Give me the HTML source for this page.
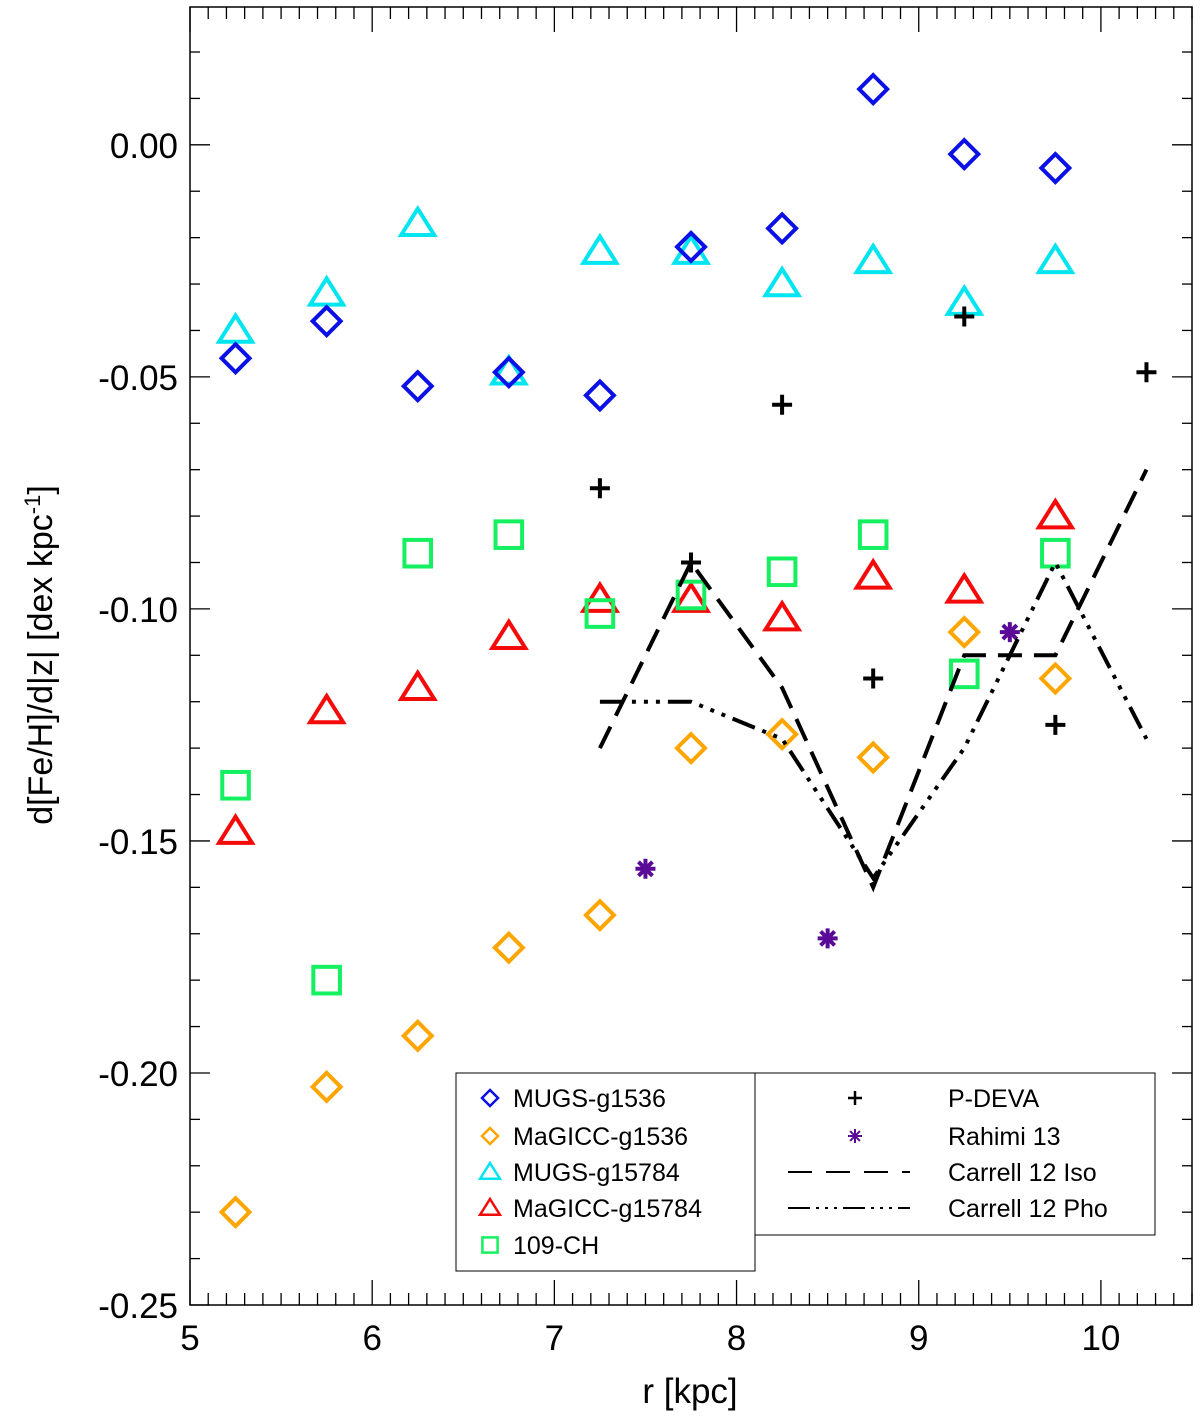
<!DOCTYPE html>
<html><head><meta charset="utf-8"><style>
body{margin:0;background:#fff}
svg{display:block;font-family:"Liberation Sans",sans-serif}
</style></head><body>
<svg id="chart" width="1200" height="1419" viewBox="0 0 1200 1419" xmlns="http://www.w3.org/2000/svg">
<g id="axes"></g>
<g id="marks"></g>
<g id="legend"></g>
<text x="690" y="1403" font-size="35" text-anchor="middle">r [kpc]</text>
<text transform="translate(52,655) rotate(-90)" font-size="34" text-anchor="middle">d[Fe/H]/d|z| [dex kpc<tspan dy="-12" font-size="22">-1</tspan><tspan dy="12">]</tspan></text>
</svg>
<script>
const rBins=[5.25,5.75,6.25,6.75,7.25,7.75,8.25,8.75,9.25,9.75];
const mugs1536=[-0.046,-0.038,-0.052,-0.049,-0.054,-0.022,-0.018,0.012,-0.002,-0.005];
const magicc1536=[-0.230,-0.203,-0.192,-0.173,-0.166,-0.130,-0.127,-0.132,-0.105,-0.115];
const mugs15784=[-0.040,-0.032,-0.017,-0.049,-0.023,-0.023,-0.030,-0.025,-0.034,-0.025];
const magicc15784=[-0.148,-0.122,-0.117,-0.106,-0.098,-0.098,-0.102,-0.093,-0.096,-0.080];
const ch109=[-0.138,-0.180,-0.088,-0.084,-0.101,-0.097,-0.092,-0.084,-0.114,-0.088];
const pdevaR=[7.25,7.75,8.25,8.75,9.25,9.75,10.25];
const pdeva=[-0.074,-0.090,-0.056,-0.115,-0.037,-0.125,-0.049];
const rahimiR=[7.5,8.5,9.5];
const rahimi=[-0.156,-0.171,-0.105];
const carrellR=[7.25,7.75,8.25,8.75,9.25,9.75,10.25];
const carrellIso=[-0.130,-0.090,-0.117,-0.160,-0.110,-0.110,-0.070];
const carrellPho=[-0.120,-0.120,-0.128,-0.158,-0.130,-0.090,-0.128];
const xTicks=[5,6,7,8,9,10];
const yTicks=[0,-0.05,-0.10,-0.15,-0.20,-0.25];
const yTickLabels=["0.00","-0.05","-0.10","-0.15","-0.20","-0.25"];

const X0=190,X1=1192,Y0=7,Y1=1305;
const xmin=5,xmax=10.5,ymin=-0.25,ymax=0.0297;
const sx=v=>X0+(v-xmin)/(xmax-xmin)*(X1-X0);
const sy=v=>Y1-(v-ymin)/(ymax-ymin)*(Y1-Y0);
const NS="http://www.w3.org/2000/svg";
function mk(tag,attrs,parent){const e=document.createElementNS(NS,tag);for(const k in attrs)e.setAttribute(k,attrs[k]);parent.appendChild(e);return e;}
const axes=document.getElementById('axes'),marks=document.getElementById('marks'),legend=document.getElementById('legend');

let fr=mk('rect',{x:X0,y:Y0,width:X1-X0,height:Y1-Y0,fill:'none',stroke:'#000','stroke-width':1.5},axes);


for(let i=50;i<=105;i++){
  const v=i/10,x=sx(v),maj=(i%10===0),L=maj?25:12;
  mk('line',{x1:x,x2:x,y1:Y1,y2:Y1-L,stroke:'#000','stroke-width':1.3},axes);
  mk('line',{x1:x,x2:x,y1:Y0,y2:Y0+L,stroke:'#000','stroke-width':1.3},axes);
}
xTicks.forEach(v=>{
  const t=mk('text',{x:sx(v),y:1350,'font-size':35,'text-anchor':'middle'},axes);t.textContent=v;
  
  
});
for(let i=-25;i<=2;i++){
  const v=i/100,y=sy(v),maj=(i%5===0),L=maj?20:10;
  mk('line',{x1:X0,x2:X0+L,y1:y,y2:y,stroke:'#000','stroke-width':1.3},axes);
  mk('line',{x1:X1,x2:X1-L,y1:y,y2:y,stroke:'#000','stroke-width':1.3},axes);
}
yTicks.forEach((v,i)=>{
  const t=mk('text',{x:178,y:sy(v)+13,'font-size':35,'text-anchor':'end'},axes);t.textContent=yTickLabels[i];
  
  
});

function marker(type,x,y,color,s,parent){
  let e;
  if(type==='diamond') e=mk('polygon',{points:`${x},${y-s} ${x+s},${y} ${x},${y+s} ${x-s},${y}`,fill:'none',stroke:color,'stroke-width':s>10?4:2.5},parent);
  else if(type==='tri') e=mk('polygon',{points:`${x},${y-s} ${x+s*1.1},${y+s*0.75} ${x-s*1.1},${y+s*0.75}`,fill:'none',stroke:color,'stroke-width':s>10?4:2.5},parent);
  else if(type==='square') e=mk('rect',{x:x-s*0.95,y:y-s*0.95,width:s*1.9,height:s*1.9,fill:'none',stroke:color,'stroke-width':s>10?4:2.5},parent);
  else if(type==='plus') e=mk('path',{d:`M${x-s} ${y}H${x+s}M${x} ${y-s}V${y+s}`,stroke:color,'stroke-width':s>8?4:2.5,fill:'none'},parent);
  else if(type==='star') e=mk('path',{d:`M${x-s} ${y}H${x+s}M${x} ${y-s}V${y+s}M${x-s*.7} ${y-s*.7}L${x+s*.7} ${y+s*.7}M${x-s*.7} ${y+s*.7}L${x+s*.7} ${y-s*.7}`,stroke:color,'stroke-width':s>8?4:2,fill:'none'},parent);
  return e;
}
const series=[
 {name:'MUGS-g1536',vals:mugs1536,type:'diamond',color:'#0a10e6'},
 {name:'MaGICC-g1536',vals:magicc1536,type:'diamond',color:'#ffa500'},
 {name:'MUGS-g15784',vals:mugs15784,type:'tri',color:'#00e5f0'},
 {name:'MaGICC-g15784',vals:magicc15784,type:'tri',color:'#f50a0a'},
 {name:'109-CH',vals:ch109,type:'square',color:'#14f060'}];
[2,0,1,3,4].forEach(si=>{const s=series[si];
  s.vals.forEach((v,i)=>{const e=marker(s.type,sx(rBins[i]),sy(v),s.color,s.type==='tri'?15:14,marks);
    
    });
});
pdeva.forEach((v,i)=>{const e=marker('plus',sx(pdevaR[i]),sy(v),'#000',10,marks);
  
  });
rahimi.forEach((v,i)=>{const e=marker('star',sx(rahimiR[i]),sy(v),'#5a0a96',10,marks);
  
  });
function line(vals,dash,nm){
  const d=vals.map((v,i)=>(i?'L':'M')+sx(carrellR[i])+' '+sy(v)).join('');
  const e=mk('path',{d:d,fill:'none',stroke:'#000','stroke-width':4,'stroke-dasharray':dash},marks);
  
  
}
line(carrellIso,'24 12','line-carrell-12-iso');
line(carrellPho,'24 8 4 8 4 8 4 8','line-carrell-12-pho');

let b1=mk('rect',{x:456,y:1073,width:299,height:198,fill:'#fff',stroke:'#000','stroke-width':1},legend);


let b2=mk('rect',{x:755,y:1073,width:400,height:162,fill:'#fff',stroke:'#000','stroke-width':1},legend);


const ly=[1098,1136,1172,1208,1245];
series.forEach((s,i)=>{
  marker(s.type,490,ly[i],s.color,s.type==='tri'?9:8,legend);
  const t=mk('text',{x:513,y:ly[i]+9,'font-size':25},legend);t.textContent=s.name;
  
  
});
const obs=['P-DEVA','Rahimi 13','Carrell 12 Iso','Carrell 12 Pho'];
obs.forEach((n,i)=>{
  const y=ly[i];
  if(i===0) marker('plus',855,y,'#000',7,legend);
  if(i===1) marker('star',855,y,'#5a0a96',7,legend);
  if(i===2) mk('path',{d:`M788 ${y}H910`,stroke:'#000','stroke-width':2,'stroke-dasharray':'24 14'},legend);
  if(i===3) mk('path',{d:`M788 ${y}H910`,stroke:'#000','stroke-width':2,'stroke-dasharray':'22 6 3 6 3 6 3 6'},legend);
  const t=mk('text',{x:948,y:y+9,'font-size':25},legend);t.textContent=n;
  
  
});
</script>
</body></html>
